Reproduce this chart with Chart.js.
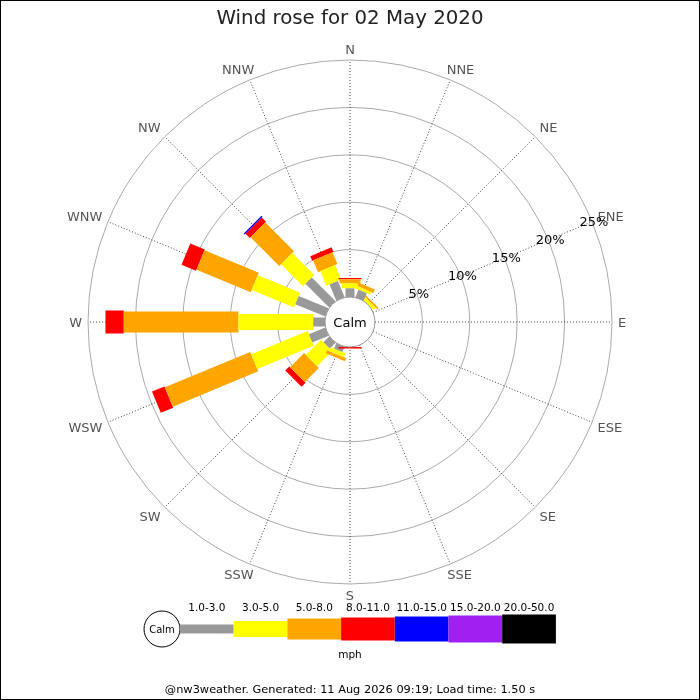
<!DOCTYPE html>
<html>
<head>
<meta charset="utf-8">
<script src="https://cdn.jsdelivr.net/npm/chart.js@4.4.1/dist/chart.umd.min.js"></script>
<style>
html,body{margin:0;padding:0;background:#fff;}
#wrap{width:700px;height:700px;position:relative;}
</style>
</head>
<body>
<div id="wrap"><canvas id="c" width="700" height="700"></canvas></div>
<script>
// ---------- data ----------
const directions = ['N','NNE','NE','ENE','E','ESE','SE','SSE','S','SSW','SW','WSW','W','WNW','NW','NNW'];
const speedBands = ['1.0-3.0','3.0-5.0','5.0-8.0','8.0-11.0','11.0-15.0','15.0-20.0','20.0-50.0'];
// percentage of time per direction, by speed band (mph)
const band1to3   = [0.92,0.85,0,0,0,0,0,0,0,0.60,0.85,1.86,1.25,3.42,3.54,1.86];
const band3to5   = [0.53,0.30,0.35,0,0,0,0,0,0,0.45,2.26,6.44,7.88,4.82,3.28,1.66];
const band5to8   = [0.42,0.40,0.20,0,0,0,0,0,0,0.35,2.10,9.75,12.10,6.20,4.28,1.34];
const band8to11  = [0.14,0,0,0,0,0,0,0,0.17,0,0.60,1.42,1.93,1.66,0.63,0.53];
const band11to15 = [0,0,0,0,0,0,0,0,0,0,0,0,0,0,0.16,0];
const band15to20 = [0,0,0,0,0,0,0,0,0,0,0,0,0,0,0,0];
const band20to50 = [0,0,0,0,0,0,0,0,0,0,0,0,0,0,0,0];
const ringTicks  = [5,10,15,20,25];
const ringLabels = ['5%','10%','15%','20%','25%'];
const titleText  = 'Wind rose for 02 May 2020';
const footerText = '@nw3weather. Generated: 11 Aug 2026 09:19; Load time: 1.50 s';
const unitText   = 'mph';
const calmText   = 'Calm';

// ---------- style ----------
const bandSeries = [band1to3,band3to5,band5to8,band8to11,band11to15,band15to20,band20to50];
const bandColors = ['#999999','#ffff00','#ffa500','#ff0000','#0000ff','#a020f0','#000000'];
const bandWidths = [9,16,21,23,25,27,29];
const FONT = "'DejaVu Sans', sans-serif";
const CALM = 25/9.5;             // calm-circle radius, in percent units
const MAXR = CALM + 25;          // outer ring
const FOOT_SIZE = 11.35;

const datasets = [];
directions.forEach((d, i) => {
  const th = i * Math.PI / 8;
  let cum = CALM;
  bandSeries.forEach((s, b) => {
    const v = s[i];
    if (v > 0) {
      const r0 = cum, r1 = cum + v;
      datasets.push({
        label: d + ' ' + speedBands[b],
        data: [{x: r0*Math.sin(th), y: r0*Math.cos(th)}, {x: r1*Math.sin(th), y: r1*Math.cos(th)}],
        showLine: true, borderColor: bandColors[b], backgroundColor: bandColors[b],
        borderWidth: bandWidths[b], borderCapStyle: 'butt', pointRadius: 0, pointHoverRadius: 0,
        tension: 0, clip: false
      });
      cum = r1;
    }
  });
});

// draw text with its cap-height centred on (x, y)
function capText(ctx, t, x, y, size) {
  ctx.textBaseline = 'alphabetic';
  ctx.fillText(t, x, y + size * 0.729 / 2);
}

const rosePlugin = {
  id: 'rose',
  beforeDatasetsDraw(chart) {
    const ctx = chart.ctx, xs = chart.scales.x, ys = chart.scales.y;
    const cx = xs.getPixelForValue(0), cy = ys.getPixelForValue(0);
    const k = xs.getPixelForValue(1) - cx;
    ctx.save();
    ctx.strokeStyle = '#aaaaaa'; ctx.lineWidth = 1;
    ringTicks.forEach(t => {
      ctx.beginPath(); ctx.arc(cx, cy, (CALM + t) * k, 0, Math.PI*2); ctx.stroke();
    });
    ctx.strokeStyle = '#444'; ctx.setLineDash([1,2]);
    directions.forEach((d, i) => {
      const th = i * Math.PI / 8;
      ctx.beginPath();
      ctx.moveTo(cx + CALM*k*Math.sin(th), cy - CALM*k*Math.cos(th));
      ctx.lineTo(cx + MAXR*k*Math.sin(th), cy - MAXR*k*Math.cos(th));
      ctx.stroke();
    });
    ctx.restore();
  },
  afterDatasetsDraw(chart) {
    const ctx = chart.ctx, xs = chart.scales.x, ys = chart.scales.y;
    const cx = xs.getPixelForValue(0), cy = ys.getPixelForValue(0);
    const k = xs.getPixelForValue(1) - cx;
    ctx.save();
    // calm circle
    ctx.beginPath(); ctx.arc(cx, cy, CALM*k, 0, Math.PI*2);
    ctx.fillStyle = '#fff'; ctx.fill();
    ctx.strokeStyle = '#999'; ctx.lineWidth = 1; ctx.stroke();
    ctx.fillStyle = '#000'; ctx.font = '13px ' + FONT;
    ctx.textAlign = 'center';
    capText(ctx, calmText, cx, cy, 13);
    // direction labels
    ctx.fillStyle = '#555'; ctx.font = '13px ' + FONT;
    const R = MAXR*k + 6;
    directions.forEach((d, i) => {
      const th = i * Math.PI / 8;
      const s = Math.sin(th), c = Math.cos(th);
      const hw = ctx.measureText(d).width / 2, hh = 5;
      const x = cx + R*s + Math.sign(Math.round(s*1e6))*hw*Math.min(1, 1.5*Math.abs(s));
      const y = cy - R*c - Math.sign(Math.round(c*1e6))*hh*Math.min(1, 1.5*Math.abs(c));
      capText(ctx, d, x, y, 13);
    });
    // ring labels along ENE
    ctx.fillStyle = '#000';
    const la = 3 * Math.PI / 8;
    ringTicks.forEach((t, j) => {
      const r = (CALM + t)*k + 2;
      capText(ctx, ringLabels[j], cx + r*Math.sin(la), cy - r*Math.cos(la), 13);
    });
    ctx.restore();
  },
  afterDraw(chart) {
    const ctx = chart.ctx;
    ctx.save();
    // legend
    const lx = 180, ly = 629, bw = 53.7;
    ctx.beginPath(); ctx.arc(162, ly, 18, 0, Math.PI*2);
    ctx.fillStyle = '#fff'; ctx.fill(); ctx.strokeStyle = '#000'; ctx.lineWidth = 1; ctx.stroke();
    ctx.fillStyle = '#000'; ctx.font = '10px ' + FONT; ctx.textAlign = 'center';
    capText(ctx, calmText, 162, ly, 10);
    ctx.font = '10.5px ' + FONT;
    speedBands.forEach((s, b) => {
      const x = lx + b*bw, h = bandWidths[b];
      ctx.fillStyle = bandColors[b];
      ctx.fillRect(x, ly - h/2, bw, h);
      ctx.fillStyle = '#000';
      capText(ctx, s, x + bw/2, 607.5, 10.5);
    });
    ctx.textBaseline = 'middle';
    ctx.fillText(unitText, 350, 655);
    // frame
    ctx.strokeStyle = '#000'; ctx.lineWidth = 1;
    ctx.strokeRect(0.5, 0.5, 699, 699);
    ctx.restore();
  }
};

new Chart(document.getElementById('c'), {
  type: 'scatter',
  data: { datasets },
  options: {
    responsive: false, animation: false, devicePixelRatio: 1,
    layout: { padding: { left: 88, right: 88, top: 0, bottom: 0 } },
    scales: {
      x: { type: 'linear', min: -MAXR, max: MAXR, display: false },
      y: { type: 'linear', min: -MAXR, max: MAXR, display: false }
    },
    plugins: {
      legend: { display: false }, tooltip: { enabled: false },
      title: { display: true, text: titleText, color: '#222',
               font: { family: FONT, size: 19.8, weight: 'normal', lineHeight: 1.2 },
               padding: { top: 6.5, bottom: 60 - 6.5 - 19.8*1.2 } },
      subtitle: { display: true, position: 'bottom', text: footerText, color: '#000',
               font: { family: FONT, size: FOOT_SIZE, weight: 'normal', lineHeight: 1.2 },
               padding: { top: 700 - 584 - FOOT_SIZE*1.2 - 3.2, bottom: 3.2 } }
    }
  },
  plugins: [rosePlugin]
});
</script>
</body>
</html>
